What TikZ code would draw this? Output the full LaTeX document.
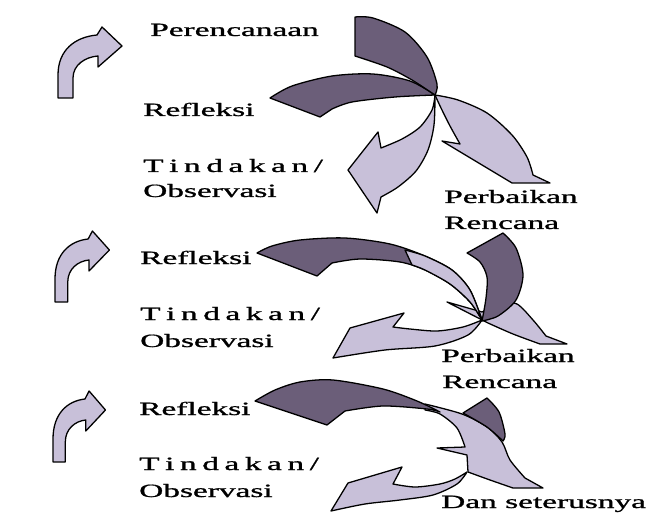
\documentclass[tikz,border=0pt]{standalone}
\usepackage{graphicx}
\usepackage{fontspec}
\setmainfont{Liberation Serif}
\newfontfamily\lblfont[FakeBold=0.9]{Liberation Serif}
\usepackage{tikz}
\usetikzlibrary{positioning}
\usepackage{xcolor}
\definecolor{ribbondark}{HTML}{6B5E79}
\definecolor{ribbonlight}{HTML}{C8C0D9}
\newcommand{\wide}[1]{\scalebox{1.78}[1]{#1}}

\begin{document}
\begin{tikzpicture}[
    x=0.03cm, y=-0.03cm,
    darkband/.style={draw=black, line width=1.1pt, line join=round, fill=ribbondark},
    lightband/.style={draw=black, line width=1.1pt, line join=round, fill=ribbonlight},
    lbl/.style={anchor=base west, inner sep=0pt, font=\lblfont\fontsize{16}{18}\selectfont}
  ]
    \useasboundingbox (0,0) rectangle (653,514);

    % small bent arrows on the left
    \foreach \ax/\ay/\sx in {58/98/1, 55/302/0.85, 53/462/0.82}
      \filldraw[lightband, shift={(\ax,\ay)}, xscale=\sx]
        (0,0) -- (0,-23) .. controls (0,-48) and (17,-61) .. (39,-63)
        -- (44,-71) -- (64,-52) -- (40,-31) -- (40,-42)
        .. controls (27,-41) and (15,-33) .. (15,-20) -- (15,0) -- cycle;

    % first cycle
    \filldraw[lightband] plot[smooth] coordinates {(435,95) (434,125) (428,150) (416,171) (398,187) (381,197)}
      -- (377,213) -- (348,170) -- (378,132) -- (381,148)
      -- plot[smooth] coordinates {(381,148) (402,139) (420,127) (432,110) (435,95)} -- cycle;
    \filldraw[lightband] plot[smooth] coordinates {(435,95) (458,100) (487,113) (512,135) (527,157) (533,175)}
      -- (550,183) -- (512,183) -- (442,141)
      -- plot[smooth] coordinates {(460,144) (450,126) (441,108) (435,95)} -- cycle;
    \filldraw[darkband] plot[smooth] coordinates {(270,98) (292,86) (332,76) (373,74) (410,81) (435,95)}
      -- plot[smooth] coordinates {(435,95) (395,97) (352,102) (332,109)} -- (320,117) -- cycle;
    \filldraw[darkband] plot[smooth] coordinates {(355,17) (373,18) (405,32) (427,57) (437,84) (435,95)}
      -- plot[smooth] coordinates {(435,95) (412,80) (387,67) (355,56)} -- cycle;

    % second cycle
    \filldraw[lightband] plot[smooth] coordinates {(482,320) (463,327) (437,331) (410,329) (393,327)}
      -- (404,313) -- (350,328) -- (333,358)
      -- plot[smooth] coordinates {(333,358) (385,350) (435,346) (468,335) (482,320)} -- cycle;
    \filldraw[lightband] (447,302) -- (482,312)
      -- plot[smooth] coordinates {(500,303) (517,304) (533,320) (546,336)}
      -- (567,344) -- (540,344)
      -- plot[smooth] coordinates {(540,344) (513,334) (488,323)} -- cycle;
    \filldraw[darkband] plot[smooth] coordinates {(257,253) (272,246) (300,240) (345,238) (390,244) (425,256) (452,270) (470,290) (482,320)}
      -- plot[smooth] coordinates {(482,320) (470,302) (450,284) (425,270) (400,262) (360,259) (332,263)}
      -- (317,276) -- cycle;
    \filldraw[lightband] plot[smooth] coordinates {(405,250) (425,256) (452,270) (470,290) (482,320)}
      -- plot[smooth] coordinates {(482,320) (470,302) (450,284) (425,270) (412,265)} -- cycle;
    \filldraw[darkband] (467,253) -- (503,233)
      -- plot[smooth] coordinates {(503,233) (516,248) (523,275) (516,300) (498,316) (482,321)}
      -- plot[smooth] coordinates {(482,321) (486,298) (487,277) (480,262) (467,253)} -- cycle;

    % third cycle
    \filldraw[lightband] plot[smooth] coordinates {(467,472) (455,479) (440,484) (415,487) (393,484)}
      -- (402,467) -- (348,483) -- (331,511)
      -- plot[smooth] coordinates {(331,511) (365,504) (400,500) (433,495) (457,484) (467,472)} -- cycle;
    \filldraw[lightband] plot[smooth] coordinates {(425,404) (462,414) (487,427) (502,442) (510,460) (525,478)}
      -- (543,488) -- (513,488)
      -- plot[smooth] coordinates {(513,488) (490,480) (468,472)}
      -- (467,455) -- (437,448) -- (465,447)
      -- plot[smooth] coordinates {(465,447) (457,428) (440,414) (425,410)} -- cycle;
    \filldraw[darkband] plot[smooth] coordinates {(255,401) (275,390) (300,382) (333,380) (383,389) (417,401) (440,412)}
      -- plot[smooth] coordinates {(440,412) (427,409) (383,406) (345,411)} -- (327,425) -- cycle;
    \filldraw[darkband] (463,413) -- (487,398)
      -- plot[smooth] coordinates {(487,398) (499,412) (505,434) (503,441)}
      -- plot[smooth] coordinates {(503,441) (487,427) (463,413)} -- cycle;

    % labels
    \node[lbl] (plan)  at (150,36)  {\wide{Perencanaan}};
    \node[lbl] (refa)  at (143,116) {\wide{Refleksi}};
    \node[lbl] (acta)  at (143,172) {\wide{T\,i\,n\,d\,a\,k\,a\,n\,/}};
    \node[lbl] (obsa)  at (143,197) {\wide{Observasi}};
    \node[lbl] (fixa)  at (444,203) {\wide{Perbaikan}};
    \node[lbl] (fixab) at (444,229) {\wide{Rencana}};
    \node[lbl] (refb)  at (140,264) {\wide{Refleksi}};
    \node[lbl] (actb)  at (140,320) {\wide{T\,i\,n\,d\,a\,k\,a\,n\,/}};
    \node[lbl] (obsb)  at (140,347) {\wide{Observasi}};
    \node[lbl] (fixb)  at (441,362) {\wide{Perbaikan}};
    \node[lbl] (fixbb) at (442,388) {\wide{Rencana}};
    \node[lbl] (refc)  at (139,415) {\wide{Refleksi}};
    \node[lbl] (actc)  at (139,470) {\wide{T\,i\,n\,d\,a\,k\,a\,n\,/}};
    \node[lbl] (obsc)  at (139,497) {\wide{Observasi}};
    \node[lbl] (next)  at (441,508) {\wide{Dan seterusnya}};
  \end{tikzpicture}
\end{document}
